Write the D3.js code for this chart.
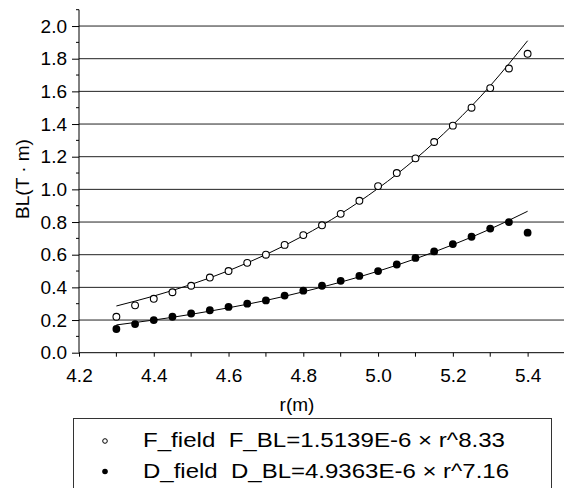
<!DOCTYPE html>
<html lang="en">
  <head>
    <meta charset="utf-8">
    <script src="https://d3js.org/d3.v7.min.js"></script>
    <style>
      body { margin: 0; background: #fff; }
      text { font-family: "Liberation Sans", Arial, sans-serif; fill: #000; }
    </style>
  </head>
  <body>
    <svg id="chart" width="564" height="488"></svg>
    <script>

    // measured points
    var rValues = [4.30,4.35,4.40,4.45,4.50,4.55,4.60,4.65,4.70,4.75,4.80,4.85,4.90,4.95,5.00,5.05,5.10,5.15,5.20,5.25,5.30,5.35,5.40];
    var fField = [0.22,0.29,0.33,0.37,0.41,0.46,0.50,0.55,0.60,0.66,0.72,0.78,0.85,0.93,1.02,1.10,1.19,1.29,1.39,1.50,1.62,1.74,1.83];
    var dField = [0.145,0.175,0.20,0.22,0.24,0.26,0.28,0.30,0.32,0.35,0.38,0.41,0.44,0.47,0.50,0.54,0.58,0.62,0.665,0.71,0.76,0.80,0.735];

    // fit curves
    var fitR = [4.3,4.4,4.5,4.6,4.7,4.8,4.9,5.0,5.1,5.2,5.3,5.4];
    var fFit = [0.286,0.347,0.418,0.502,0.601,0.716,0.850,1.006,1.186,1.395,1.634,1.910];
    var dFit = [0.170,0.200,0.235,0.275,0.320,0.373,0.432,0.499,0.575,0.661,0.757,0.866];

    var xTicks = [4.2,4.4,4.6,4.8,5.0,5.2,5.4];
    var xMinor = [4.3,4.5,4.7,4.9,5.1,5.3,5.5];
    var yTicks = [0.0,0.2,0.4,0.6,0.8,1.0,1.2,1.4,1.6,1.8,2.0];
    var yMinor = [0.1,0.3,0.5,0.7,0.9,1.1,1.3,1.5,1.7,1.9,2.1];

    var legendLabels = [
      "F_field  F_BL=1.5139E-6 \u00d7 r^8.33",
      "D_field  D_BL=4.9363E-6 \u00d7 r^7.16"
    ];

    var svg = d3.select("#chart");

    var x = d3.scaleLinear().domain([4.2, 5.5]).range([79, 565]);
    var y = d3.scaleLinear().domain([0, 2.1]).range([352.7, 9.7]);

    // grid lines
    svg.append("g")
      .selectAll("line")
      .data(yTicks.slice(1))
      .enter()
      .append("line")
      .attr("x1", x(4.2))
      .attr("x2", 564)
      .attr("y1", function(d){ return y(d); })
      .attr("y2", function(d){ return y(d); })
      .attr("stroke", "#222")
      .attr("stroke-width", 1);

    // y axis
    var yAxis = svg.append("g").attr("transform", "translate(" + x(4.2) + ",0)");
    yAxis.call(d3.axisLeft(y).tickValues(yTicks).tickSize(7).tickPadding(5)
      .tickFormat(d3.format(".1f")));
    yAxis.select(".domain").attr("d", "M0," + y(2.1) + "V" + y(0)).attr("stroke", "#000");
    yAxis.selectAll("text").style("font-size", "19px").attr("fill", "#000");
    yAxis.selectAll(".tick line").attr("stroke", "#000");
    yAxis.selectAll(".minor")
      .data(yMinor)
      .enter()
      .append("line")
      .attr("class", "minor")
      .attr("x1", -3)
      .attr("x2", 0)
      .attr("y1", function(d){ return y(d); })
      .attr("y2", function(d){ return y(d); })
      .attr("stroke", "#000");

    // x axis
    var xAxis = svg.append("g").attr("transform", "translate(0," + y(0) + ")");
    xAxis.call(d3.axisBottom(x).tickValues(xTicks).tickSize(4).tickPadding(12)
      .tickFormat(d3.format(".1f")));
    xAxis.select(".domain").attr("d", "M" + x(4.2) + ",0H564").attr("stroke", "#000");
    xAxis.selectAll("text").style("font-size", "19px").attr("fill", "#000");
    xAxis.selectAll(".tick line").attr("stroke", "#000");
    xAxis.selectAll(".minor")
      .data(xMinor)
      .enter()
      .append("line")
      .attr("class", "minor")
      .attr("x1", function(d){ return x(d); })
      .attr("x2", function(d){ return x(d); })
      .attr("y1", 0)
      .attr("y2", 4)
      .attr("stroke", "#000");

    // axis titles
    svg.append("text")
      .attr("x", 297)
      .attr("y", 411)
      .attr("text-anchor", "middle")
      .style("font-size", "19px")
      .text("r(m)");

    svg.append("text")
      .attr("transform", "translate(29,179) rotate(-90)")
      .attr("text-anchor", "middle")
      .style("font-size", "19px")
      .text("BL(T \u00b7 m)");

    // fit curves
    var line = d3.line()
      .x(function(d){ return x(d[0]); })
      .y(function(d){ return y(d[1]); })
      .curve(d3.curveNatural);

    [fFit, dFit].forEach(function(fit)
    {
      svg.append("path")
        .datum(fitR.map(function(r, i){ return [r, fit[i]]; }))
        .attr("d", line)
        .attr("fill", "none")
        .attr("stroke", "#000")
        .attr("stroke-width", 1);
    });

    // points
    svg.append("g")
      .selectAll("circle")
      .data(rValues.map(function(r, i){ return [r, fField[i]]; }))
      .enter()
      .append("circle")
      .attr("cx", function(d){ return x(d[0]); })
      .attr("cy", function(d){ return y(d[1]); })
      .attr("r", 3.4)
      .attr("fill", "#fff")
      .attr("stroke", "#000")
      .attr("stroke-width", 1.1);

    svg.append("g")
      .selectAll("circle")
      .data(rValues.map(function(r, i){ return [r, dField[i]]; }))
      .enter()
      .append("circle")
      .attr("cx", function(d){ return x(d[0]); })
      .attr("cy", function(d){ return y(d[1]); })
      .attr("r", 3.9)
      .attr("fill", "#000");

    // legend
    var legend = svg.append("g");
    legend.append("rect")
      .attr("x", 73.5)
      .attr("y", 418.5)
      .attr("width", 478)
      .attr("height", 100)
      .attr("fill", "#fff")
      .attr("stroke", "#333")
      .attr("stroke-width", 1);

    legend.selectAll("g.item")
      .data(legendLabels)
      .enter()
      .append("g")
      .attr("class", "item")
      .each(function(d, i)
      {
        var g = d3.select(this);
        g.append("circle")
          .attr("cx", 105)
          .attr("cy", 441 + i * 30.5)
          .attr("r", i == 0 ? 2.3 : 2.8)
          .attr("fill", i == 0 ? "#fff" : "#000")
          .attr("stroke", "#000")
          .attr("stroke-width", i == 0 ? 1 : 0);
        g.append("text")
          .attr("x", 143)
          .attr("y", 447 + i * 31)
          .attr("textLength", i == 0 ? 362 : 366)
          .attr("lengthAdjust", "spacingAndGlyphs")
          .style("font-size", "20px")
          .style("white-space", "pre")
          .text(d);
      });

    </script>
  </body>
</html>
